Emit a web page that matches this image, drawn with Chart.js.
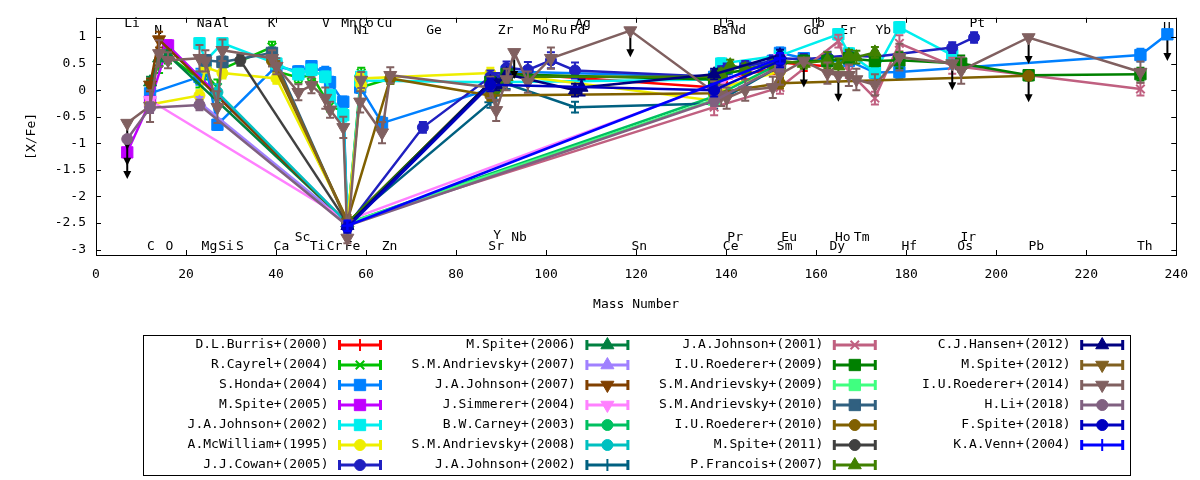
<!DOCTYPE html>
<html>
<head>
<meta charset="utf-8">
<script src="https://cdn.jsdelivr.net/npm/chart.js@4.4.1/dist/chart.umd.min.js"></script>
<style>
  html, body { margin: 0; padding: 0; background: #fff; }
  #wrap { width: 1200px; height: 480px; }
</style>
</head>
<body>
<div id="wrap"><canvas id="abund" width="1200" height="480"></canvas></div>
<script>
// element -> mass number
const ELEMENTS = ['Li','C','N','O','Na','Mg','Al','Si','S','K','Ca','Sc','Ti','V','Cr','Mn','Fe','Co','Ni','Cu','Zn','Ge',
  'Sr','Y','Zr','Nb','Mo','Ru','Pd','Ag','Sn','Ba','La','Ce','Pr','Nd','Sm','Eu','Gd','Tb','Dy','Ho','Er','Tm','Yb',
  'Hf','Os','Ir','Pt','Pb','Th','U'];
const MASS = [6.94,12.01,14.01,16.00,22.99,24.31,26.98,28.09,32.07,39.10,40.08,44.96,47.87,50.94,52.00,54.94,55.85,58.93,58.69,63.55,65.38,72.63,
  87.62,88.91,91.22,92.91,95.95,101.07,106.42,107.87,118.71,137.33,138.91,140.12,140.91,144.24,150.36,151.96,157.25,158.93,162.50,164.93,167.26,168.93,173.05,
  178.49,190.23,192.22,195.08,207.2,232.04,238.03];

// element names written inside the plot (x = mass number, y = [X/Fe])
const LABEL_TEXT = ['Li','N','Na','Al','K','V','Mn','Co','Ni','Cu','Ge','Zr','Mo','Ru','Pd','Ag','Ba','La','Nd','Gd','Tb','Er','Yb','Pt','U',
  'C','O','Mg','Si','S','Ca','Sc','Ti','Cr','Fe','Zn','Sr','Y','Nb','Sn','Ce','Pr','Sm','Eu','Dy','Ho','Tm','Hf','Os','Ir','Pb','Th'];
const LABEL_X = [8.0,13.8,24.1,27.9,39.0,51.1,56.2,60.0,59.0,64.1,75.1,91.0,98.9,102.9,107.0,108.2,138.8,140.1,142.7,158.9,160.2,167.1,174.9,195.8,237.9,
  12.2,16.3,25.2,28.9,32.0,41.2,45.9,49.2,53.0,57.0,65.2,88.9,89.1,94.0,120.7,141.0,142.0,153.0,154.0,164.7,165.9,170.1,180.7,193.1,193.8,208.9,233.0];
const LABEL_Y = [1.25,1.11,1.25,1.25,1.25,1.25,1.25,1.25,1.11,1.25,1.11,1.11,1.11,1.11,1.11,1.25,1.11,1.25,1.11,1.11,1.25,1.11,1.11,1.25,1.17,
  -2.95,-2.95,-2.95,-2.95,-2.95,-2.95,-2.77,-2.95,-2.95,-2.95,-2.95,-2.95,-2.73,-2.77,-2.95,-2.95,-2.77,-2.95,-2.77,-2.95,-2.77,-2.77,-2.95,-2.95,-2.77,-2.95,-2.95];

// [element, [X/Fe], error, upper limit flag]
const burris2000 = [['Fe',-2.50,0.08],['Sr',0.15,0.12],['Y',0.22,0.10],['Zr',0.32,0.10],['Ba',0.05,0.12],['La',0.15,0.10],['Ce',0.22,0.10],
  ['Nd',0.30,0.10],['Sm',0.40,0.10],['Eu',0.52,0.10],['Gd',0.48,0.12],['Dy',0.45,0.10]];
const cayrel2004 = [['C',0.05,0.15],['N',0.52,0.20],['O',0.65,0.15],['Na',0.20,0.15],['Mg',0.30,0.10],['Al',0.05,0.15],['Si',0.40,0.15],
  ['K',0.81,0.10],['Ca',0.35,0.10],['Sc',0.24,0.10],['Ti',0.28,0.10],['Cr',-0.30,0.10],['Mn',-0.40,0.10],['Fe',-2.50,0.10],['Co',0.32,0.10],
  ['Ni',0.05,0.10],['Zn',0.22,0.10]];
const honda2004 = [['C',-0.06,0.15],['Na',0.25,0.15],['Mg',0.50,0.10],['Al',-0.65,0.10],['Ca',0.45,0.10],['Sc',0.35,0.10],['Ti',0.45,0.10],
  ['V',0.32,0.12],['Cr',0.15,0.10],['Mn',-0.22,0.10],['Fe',-2.50,0.10],['Co',0.15,0.10],['Ni',0.05,0.10],['Cu',-0.62,0.12],['Sr',0.02,0.12],
  ['Y',0.15,0.10],['Zr',0.35,0.10],['Ba',0.25,0.10],['La',0.35,0.10],['Ce',0.40,0.10],['Nd',0.45,0.10],['Sm',0.55,0.10],['Eu',0.70,0.10],
  ['Gd',0.60,0.10],['Dy',0.55,0.10],['Er',0.55,0.10],['Yb',0.33,0.10],['Hf',0.34,0.12],['Th',0.66,0.12],['U',1.05,0,1]];
const spite2005 = [['Li',-1.17,0,1],['C',-0.22,0.10],['O',0.84,0.10],['Fe',-2.50,0.10]];
const johnson2002a = [['Na',0.88,0.10],['Mg',0.55,0.10],['Si',0.88,0.10],['Ca',0.50,0.10],['Sc',0.30,0.10],['Ti',0.38,0.10],['V',0.25,0.10],
  ['Cr',-0.10,0.10],['Mn',-0.47,0.12],['Fe',-2.50,0.10],['Co',0.25,0.10],['Ni',0.18,0.10],['Sr',0.15,0.10],['Ba',0.20,0.10],['La',0.50,0.10],
  ['Eu',0.65,0.10],['Ho',1.05,0.10],['Er',0.69,0.10],['Yb',0.34,0.10],['Hf',1.18,0.10],['Os',0.66,0.12]];
const mcwilliam1995 = [['C',-0.27,0.10],['Na',-0.10,0.10],['Mg',0.43,0.10],['Si',0.32,0.10],['Ca',0.22,0.10],['Fe',-2.45,0.10],['Co',0.10,0.10],
  ['Ni',0.22,0.10],['Sr',0.32,0.10],['Zr',0.30,0.10],['Ba',-0.20,0.10],['La',0.05,0.10],['Eu',0.35,0.10]];
const cowan2005 = [['Fe',-2.55,0.10],['Ge',-0.70,0.10],['Sr',0.25,0.12],['Y',0.20,0.12],['Zr',0.42,0.12],['Mo',0.38,0.15],['Ru',0.56,0.15],
  ['Pd',0.37,0.15],['Ba',0.25,0.12],['La',0.35,0.10],['Ce',0.40,0.10],['Nd',0.45,0.10],['Sm',0.55,0.10],['Eu',0.60,0.10],['Gd',0.58,0.10],
  ['Dy',0.62,0.10],['Er',0.65,0.10],['Yb',0.63,0.10],['Os',0.80,0.10],['Pt',0.99,0.10]];
const spite2006 = [['C',0.15,0.10],['N',0.60,0.15],['O',0.66,0.10],['Fe',-2.50,0.10]];
const andrievsky2007 = [['Na',-0.23,0.10],['Fe',-2.50,0.10]];
const johnson2007 = [['C',0.10,0.12],['N',0.95,0.15],['Fe',-2.50,0.10]];
const simmerer2004 = [['C',-0.19,0.05],['Fe',-2.45,0.10],['La',0.15,0.10],['Eu',0.60,0.10]];
const carney2003 = [['Fe',-2.50,0.10],['Ba',-0.12,0.10],['Eu',0.50,0.10]];
const andrievsky2008 = [['Al',-0.04,0.15],['Fe',-2.50,0.10]];
const johnson2002b = [['Fe',-2.50,0.10],['Sr',-0.23,0.10],['Y',-0.10,0.10],['Zr',0.12,0.10],['Pd',-0.32,0.10],['Ba',-0.25,0.10],['Eu',0.45,0.10]];
const johnson2001 = [['Fe',-2.50,0.10],['Ba',-0.32,0.15],['Eu',0.05,0.12],['Ho',0.92,0.12],['Er',0.35,0.12],['Yb',-0.15,0.12],['Hf',0.88,0.15],
  ['Os',0.46,0.15],['Th',0.02,0.12]];
const roederer2009 = [['Fe',-2.50,0.10],['Sr',0.15,0.10],['Y',0.10,0.10],['Zr',0.30,0.10],['Ba',0.20,0.10],['La',0.30,0.10],['Eu',0.50,0.10],
  ['Gd',0.55,0.10],['Dy',0.55,0.10],['Er',0.60,0.10],['Yb',0.55,0.10],['Hf',0.56,0.15],['Ir',0.50,0.15],['Pb',0.28,0.10],['Th',0.30,0.12]];
const andrievsky2009 = [['Fe',-2.50,0.10],['Ba',-0.18,0.10]];
const andrievsky2010 = [['Mg',0.56,0.10],['Si',0.53,0.10],['K',0.70,0.10],['Fe',-2.50,0.10]];
const roederer2010 = [['K',0.55,0.10],['Fe',-2.45,0.10],['Zn',0.22,0.10],['Sr',-0.10,0.10],['Ba',-0.06,0.10],['Eu',0.13,0.10],['Pb',0.27,0,1]];
const spite2011 = [['S',0.56,0.10],['Fe',-2.50,0.10]];
const francois2007 = [['Fe',-2.50,0.10],['Sr',0.10,0.12],['Y',0.05,0.10],['Zr',0.25,0.10],['Ba',0.25,0.10],['La',0.30,0.10],['Pr',0.47,0.10],
  ['Nd',0.40,0.10],['Sm',0.50,0.10],['Eu',0.55,0.10],['Gd',0.50,0.10],['Dy',0.56,0.15],['Ho',0.45,0.15],['Er',0.66,0.10],['Tm',0.62,0.12],['Yb',0.71,0.10]];
const hansen2012 = [['Fe',-2.55,0.10],['Sr',0.15,0.10],['Y',0.10,0.10],['Zr',0.30,0.10],['Pd',0.00,0.12],['Ag',0.05,0.15],['Ba',0.30,0.10],['Eu',0.66,0.10]];
const spite2012 = [['Ca',0.45,0.10],['Fe',-2.50,0.10]];
const roederer2014 = [['Li',-0.62,0,1],['C',-0.30,0.30],['N',0.69,0.25],['O',0.56,0.15],['Na',0.60,0.25],['Mg',0.55,0.20],['Al',-0.32,0.30],
  ['Si',0.75,0.20],['K',0.60,0.15],['Ca',0.45,0.15],['Sc',-0.04,0.15],['Ti',0.09,0.15],['V',-0.15,0.20],['Cr',-0.37,0.15],['Mn',-0.70,0.20],
  ['Fe',-2.78,0.10],['Co',0.19,0.15],['Ni',-0.22,0.20],['Cu',-0.80,0.20],['Zn',0.28,0.15],['Sr',0.05,0.20],['Y',-0.38,0.20],['Zr',0.20,0.20],
  ['Nb',0.71,0,1],['Mo',0.15,0.20],['Ru',0.60,0.20],['Sn',1.12,0,1],['Ba',-0.04,0.20],['La',-0.10,0.20],['Ce',-0.15,0.20],['Nd',0.00,0.20],
  ['Sm',0.05,0.20],['Eu',0.30,0.20],['Gd',0.55,0,1],['Dy',0.32,0.20],['Ho',0.28,0,1],['Er',0.28,0.20],['Tm',0.20,0.20],['Yb',0.10,0.20],
  ['Hf',0.62,0.25],['Os',0.50,0,1],['Ir',0.37,0.25],['Pb',0.99,0,1],['Th',0.34,0.20]];
const li2018 = [['Li',-0.92,0,1],['C',-0.33,0.10],['Na',-0.28,0.10],['Fe',-2.55,0.10],['Ba',-0.20,0.10],['Eu',0.45,0.10]];
const fspite2018 = [['Fe',-2.58,0.10],['Sr',0.10,0.12],['Ba',0.00,0.12],['Eu',0.55,0.12]];
const venn2004 = [['Fe',-2.55,0.10],['Eu',0.60,0.10]];

const SERIES = [burris2000, cayrel2004, honda2004, spite2005, johnson2002a, mcwilliam1995, cowan2005,
  spite2006, andrievsky2007, johnson2007, simmerer2004, carney2003, andrievsky2008, johnson2002b,
  johnson2001, roederer2009, andrievsky2009, andrievsky2010, roederer2010, spite2011, francois2007,
  hansen2012, spite2012, roederer2014, li2018, fspite2018, venn2004];
const SERIES_LABELS = ['D.L.Burris+(2000)','R.Cayrel+(2004)','S.Honda+(2004)','M.Spite+(2005)','J.A.Johnson+(2002)','A.McWilliam+(1995)','J.J.Cowan+(2005)',
  'M.Spite+(2006)','S.M.Andrievsky+(2007)','J.A.Johnson+(2007)','J.Simmerer+(2004)','B.W.Carney+(2003)','S.M.Andrievsky+(2008)','J.A.Johnson+(2002)',
  'J.A.Johnson+(2001)','I.U.Roederer+(2009)','S.M.Andrievsky+(2009)','S.M.Andrievsky+(2010)','I.U.Roederer+(2010)','M.Spite+(2011)','P.Francois+(2007)',
  'C.J.Hansen+(2012)','M.Spite+(2012)','I.U.Roederer+(2014)','H.Li+(2018)','F.Spite+(2018)','K.A.Venn+(2004)'];
const SERIES_COLORS = ['#ff0000','#00c000','#0080ff','#c000ff','#00eeee','#eeee00','#2020c0',
  '#008040','#a080ff','#804000','#ff80ff','#00c060','#00c0c0','#006080',
  '#c06080','#008000','#40ff80','#306080','#806000','#404040','#408000',
  '#000080','#806020','#806060','#806080','#0000c0','#0000ff'];
const SERIES_MARKERS = ['cross','crossRot','rect','rect','rect','circle','circle',
  'triangle','triangle','invtri','invtri','circle','circle','cross',
  'crossRot','rect','rect','rect','circle','circle','triangle',
  'triangle','invtri','invtri','circle','circle','cross'];

const ARROW_LEN = 0.5;   // length of upper-limit arrows, in [X/Fe]
const RADIUS = { rect: 8, circle: 5.5, triangle: 7.5, invtri: 7.5, cross: 6, crossRot: 6 };
const FONT = "'DejaVu Sans Mono', monospace";

const massOf = el => MASS[ELEMENTS.indexOf(el)];

Chart.defaults.font.family = FONT;
Chart.defaults.font.size = 13;
Chart.defaults.color = '#000';

// error bars and upper-limit arrows, drawn under each series
const errorBars = {
  id: 'errorBars',
  beforeDatasetDraw(chart, args) {
    const { ctx, chartArea: a, scales: { x, y } } = chart;
    const ds = chart.data.datasets[args.index];
    ctx.save();
    ctx.beginPath();
    ctx.rect(a.left, a.top, a.right - a.left, a.bottom - a.top);
    ctx.clip();
    ctx.lineWidth = 2;
    ds.data.forEach(p => {
      const px = x.getPixelForValue(p.x);
      if (p.lim) {
        const y0 = y.getPixelForValue(p.y);
        const y1 = y.getPixelForValue(p.y - ARROW_LEN);
        ctx.strokeStyle = '#000';
        ctx.fillStyle = '#000';
        ctx.beginPath();
        ctx.moveTo(px, y0);
        ctx.lineTo(px, y1 - 6);
        ctx.stroke();
        ctx.beginPath();
        ctx.moveTo(px - 4, y1 - 8);
        ctx.lineTo(px + 4, y1 - 8);
        ctx.lineTo(px, y1);
        ctx.closePath();
        ctx.fill();
      } else if (p.e > 0) {
        const yt = y.getPixelForValue(p.y + p.e);
        const yb = y.getPixelForValue(p.y - p.e);
        ctx.strokeStyle = ds.borderColor;
        ctx.beginPath();
        ctx.moveTo(px, yt); ctx.lineTo(px, yb);
        ctx.moveTo(px - 4, yt); ctx.lineTo(px + 4, yt);
        ctx.moveTo(px - 4, yb); ctx.lineTo(px + 4, yb);
        ctx.stroke();
      }
    });
    ctx.restore();
  }
};

// element names inside the frame
const elementLabels = {
  id: 'elementLabels',
  beforeDatasetsDraw(chart) {
    const { ctx, scales: { x, y } } = chart;
    ctx.save();
    ctx.font = '13px ' + FONT;
    ctx.fillStyle = '#000';
    ctx.textAlign = 'center';
    ctx.textBaseline = 'middle';
    LABEL_TEXT.forEach((t, i) => ctx.fillText(t, x.getPixelForValue(LABEL_X[i]), y.getPixelForValue(LABEL_Y[i])));
    ctx.restore();
  }
};

// gnuplot style frame with inward ticks on all four sides
const frame = {
  id: 'frame',
  afterDatasetsDraw(chart) {
    const { ctx, chartArea: a, scales: { x, y } } = chart;
    ctx.save();
    ctx.strokeStyle = '#000';
    ctx.lineWidth = 1;
    ctx.beginPath();
    x.ticks.forEach(t => {
      const px = Math.round(x.getPixelForValue(t.value)) + 0.5;
      ctx.moveTo(px, a.bottom); ctx.lineTo(px, a.bottom - 5);
      ctx.moveTo(px, a.top); ctx.lineTo(px, a.top + 5);
    });
    y.ticks.forEach(t => {
      const py = Math.round(y.getPixelForValue(t.value)) + 0.5;
      ctx.moveTo(a.left, py); ctx.lineTo(a.left + 5, py);
      ctx.moveTo(a.right, py); ctx.lineTo(a.right - 5, py);
    });
    ctx.stroke();
    ctx.strokeRect(Math.round(a.left) + 0.5, Math.round(a.top) + 0.5, Math.round(a.right - a.left), Math.round(a.bottom - a.top));
    ctx.restore();
  }
};

// key box below the plot, 4 columns x 7 rows
const gnuKey = {
  id: 'gnuKey',
  afterDraw(chart) {
    const ctx = chart.ctx;
    ctx.save();
    ctx.strokeStyle = '#000';
    ctx.lineWidth = 1;
    ctx.strokeRect(143.5, 335.5, 987, 140);
    ctx.font = '13px ' + FONT;
    ctx.textAlign = 'right';
    ctx.textBaseline = 'middle';
    chart.data.datasets.forEach((ds, i) => {
      const col = Math.floor(i / 7), row = i % 7;
      const tx = 328.5 + col * 247.4, ty = 345 + row * 20;
      ctx.fillStyle = '#000';
      ctx.fillText(ds.label, tx, ty);
      const x0 = tx + 10, x1 = tx + 53;
      ctx.strokeStyle = ds.borderColor;
      ctx.lineWidth = 3;
      ctx.beginPath();
      ctx.moveTo(x0, ty); ctx.lineTo(x1, ty);
      ctx.moveTo(x0 + 1, ty - 5); ctx.lineTo(x0 + 1, ty + 5);
      ctx.moveTo(x1 - 1, ty - 5); ctx.lineTo(x1 - 1, ty + 5);
      ctx.stroke();
      ctx.fillStyle = ds.borderColor;
      ctx.lineWidth = ds.pointBorderWidth;
      Chart.helpers.drawPoint(ctx, {
        pointStyle: ds.pointStyle, rotation: ds.pointRotation,
        radius: ds.pointRadius, borderWidth: ds.pointBorderWidth
      }, (x0 + x1) / 2, ty);
    });
    ctx.restore();
  }
};

const datasets = SERIES.map((pts, i) => {
  const m = SERIES_MARKERS[i];
  const c = SERIES_COLORS[i];
  return {
    label: SERIES_LABELS[i],
    data: pts.map(p => ({ x: massOf(p[0]), y: p[1], e: p[2], lim: p[3] === 1 })),
    showLine: true,
    fill: false,
    tension: 0,
    borderColor: c,
    backgroundColor: c,
    borderWidth: 2.5,
    pointStyle: m === 'invtri' ? 'triangle' : m,
    pointRotation: m === 'invtri' ? 180 : 0,
    pointRadius: RADIUS[m],
    pointHoverRadius: RADIUS[m],
    pointBorderWidth: (m === 'cross' || m === 'crossRot') ? 2 : 1,
    pointBackgroundColor: c,
    pointBorderColor: c,
    order: SERIES.length - i
  };
});

new Chart(document.getElementById('abund'), {
  type: 'scatter',
  data: { datasets },
  options: {
    responsive: false,
    animation: false,
    devicePixelRatio: 1,
    layout: { padding: { left: 0, right: 21, top: 17, bottom: 165 } },
    plugins: { legend: { display: false }, tooltip: { enabled: false } },
    scales: {
      x: {
        type: 'linear', min: 0, max: 240,
        grid: { display: false, drawTicks: false },
        border: { display: false },
        ticks: { stepSize: 20, padding: 12, maxRotation: 0, autoSkip: false },
        title: { display: true, text: 'Mass Number', padding: { top: 4, bottom: 3 } },
        afterFit: s => { s.height = 60; }
      },
      y: {
        type: 'linear', min: -3.1, max: 1.36,
        grid: { display: false, drawTicks: false },
        border: { display: false },
        ticks: { stepSize: 0.5, padding: 10, includeBounds: false, callback: v => String(Number(v.toFixed(1))) },
        title: { display: true, text: '[X/Fe]', padding: { top: 24, bottom: 0 } },
        afterFit: s => { s.width = 96; }
      }
    }
  },
  plugins: [errorBars, elementLabels, frame, gnuKey]
});
</script>
</body>
</html>
